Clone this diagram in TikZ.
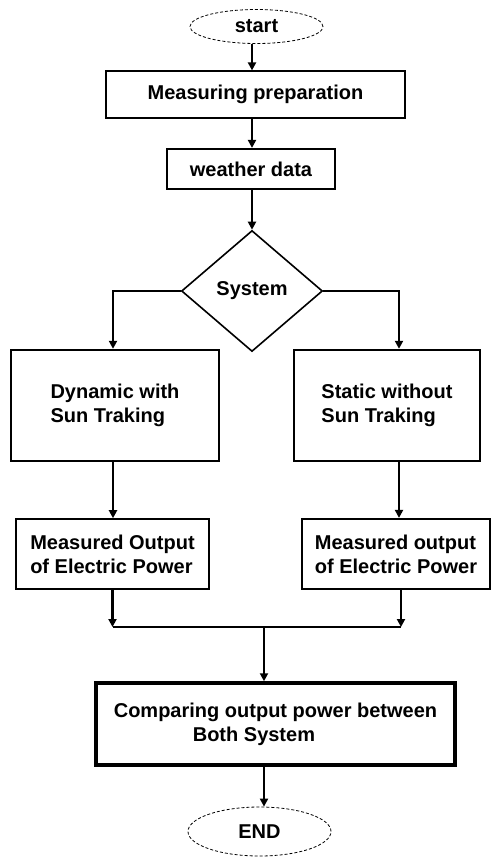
\documentclass[tikz,border=0pt]{standalone}
\usepackage{fontspec}
\setmainfont{Liberation Sans}
\usetikzlibrary{arrows.meta,shapes.geometric}

\begin{document}
\begin{tikzpicture}[x=1pt, y=-1pt,
  every node/.style={font=\fontsize{20}{24}\selectfont\bfseries, inner sep=0pt},
  term/.style={ellipse, draw, line width=0.8pt, densely dashed},
  box/.style={rectangle, draw, align=left},
  flow/.style={-{Triangle[length=8pt,width=8pt]}, line width=2.2pt}]
\useasboundingbox (0,0) rectangle (491,857);
% Start and preparation
\node[term, minimum width=133pt, minimum height=34pt] (start) at (256.5,26.5) {start};
\node[box, line width=1.2pt, minimum width=299pt, minimum height=47pt] (prep) at (255.5,94.5) {Measuring preparation};
\node[box, line width=2.2pt, minimum width=168pt, minimum height=40pt] (weather) at (251,169) {weather data};
\node[diamond, draw, line width=1.6pt, minimum width=141pt, minimum height=121pt] (sys) at (252,291) {System};
% Two branches
\node[box, line width=2.4pt, minimum width=208pt, minimum height=111pt] (dyn) at (115,405.5) {Dynamic with\\Sun Traking};
\node[box, line width=2.4pt, minimum width=186pt, minimum height=111pt] (stat) at (387,405.5) {Static without\\Sun Traking};
\node[box, line width=1.6pt, minimum width=193pt, minimum height=70pt] (lmeas) at (112.5,554) {Measured Output\\of Electric Power};
\node[box, line width=2.2pt, minimum width=188pt, minimum height=70pt] (rmeas) at (396,554) {Measured output\\of Electric Power};
% Comparison and end
\coordinate (join) at (264,627);
\node[box, line width=3.5pt, minimum width=359pt, minimum height=82pt] (cmp) at (275.5,724) {Comparing output power between\\\hspace*{79pt}Both System};
\node[term, minimum width=143pt, minimum height=49pt] (end) at (259.5,831.5) {END};
% Connectors
\draw[flow] (start.south -| sys.north) -- (sys.north |- prep.north);
\draw[flow] (prep.south -| sys.north) -- (sys.north |- weather.north);
\draw[flow] (weather.south -| sys.north) -- (sys.north);
\draw[flow] (sys.west) -| ([xshift=-2pt]dyn.north);
\draw[flow] (sys.east) -| ([xshift=12pt]stat.north);
\draw[flow] ([xshift=-2pt]dyn.south) -- ([xshift=-2pt]dyn.south |- lmeas.north);
\draw[flow] ([xshift=12pt]stat.south) -- ([xshift=12pt]stat.south |- rmeas.north);
\draw[flow] (lmeas.south) -- (lmeas.south |- join);
\draw[flow] ([xshift=5pt]rmeas.south) -- ([xshift=5pt]rmeas.south |- join);
\draw[line width=2.2pt] (lmeas.south |- join) -- ([xshift=5pt]rmeas.south |- join);
\draw[flow] (join) -- (join |- cmp.north);
\draw[flow] (join |- cmp.south) -- (join |- end.north);
\end{tikzpicture}
\end{document}
